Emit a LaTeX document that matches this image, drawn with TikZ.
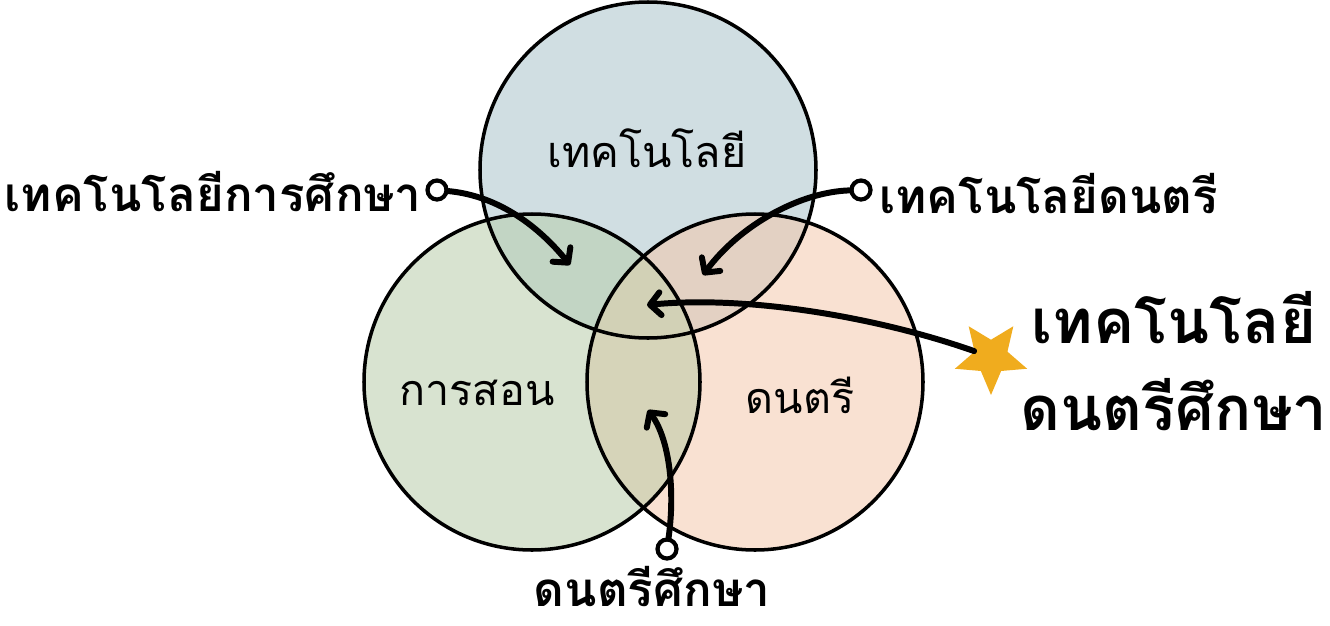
\documentclass[tikz,border=0pt]{standalone}
\usepackage{fontspec}
\newfontfamily\thaifont[Script=Thai]{Loma}
\usetikzlibrary{positioning, arrows.meta, shapes.geometric}
\definecolor{techfill}{RGB}{208,222,226}
\definecolor{teachfill}{RGB}{216,227,208}
\definecolor{musicfill}{RGB}{249,225,210}
\definecolor{techteach}{RGB}{194,213,196}
\definecolor{techmusic}{RGB}{227,209,195}
\definecolor{teachmusic}{RGB}{214,212,185}
\definecolor{allthree}{RGB}{210,209,182}
\definecolor{stargold}{RGB}{240,172,30}

\begin{document}
\begin{tikzpicture}[x=0.02cm, y=-0.02cm,
    ring/.style={draw=black, line width=2pt},
    innerlabel/.style={font=\thaifont\fontsize{24.5}{28}\selectfont, inner sep=0pt},
    sidelabel/.style={font=\thaifont\bfseries\fontsize{27}{32}\selectfont, inner sep=0pt},
    biglabel/.style={font=\thaifont\bfseries\fontsize{35}{40}\selectfont, inner sep=0pt},
    dot/.style={circle, draw=black, line width=2.4pt, fill=white, minimum size=0.38cm, inner sep=0pt},
    arrowline/.style={line width=3.4pt, line cap=round, -{Straight Barb[length=6pt, width=13pt, round]}}]
    \useasboundingbox (0,0) rectangle (1330,626);
    % circle fills and their overlaps
    \fill[techfill] (648,170) circle (168);
    \fill[teachfill] (532,382) circle (168);
    \fill[musicfill] (755,382) circle (168);
    \begin{scope}
        \clip (648,170) circle (168);
        \fill[techteach] (532,382) circle (168);
        \fill[techmusic] (755,382) circle (168);
    \end{scope}
    \begin{scope}
        \clip (532,382) circle (168);
        \fill[teachmusic] (755,382) circle (168);
        \clip (648,170) circle (168);
        \fill[allthree] (755,382) circle (168);
    \end{scope}
    \draw[ring] (648,170) circle (168);
    \draw[ring] (532,382) circle (168);
    \draw[ring] (755,382) circle (168);

    \node[innerlabel, anchor=base] (techlabel) at (647,167) {เทคโนโลยี};
    \node[innerlabel, anchor=base] (teachlabel) at (477,405) {การสอน};
    \node[innerlabel, anchor=base] (musiclabel) at (800,413) {ดนตรี};

    \node[sidelabel, anchor=base east] (edtechlabel) at (422,211) {เทคโนโลยีการศึกษา};
    \node[sidelabel, anchor=base west] (mustechlabel) at (879,213) {เทคโนโลยีดนตรี};
    \node[sidelabel, anchor=base] (musedlabel) at (652,606) {ดนตรีศึกษา};
    \node[biglabel, anchor=base] (bigtop) at (1174,343) {เทคโนโลยี};
    \node[biglabel, anchor=base] (bigbottom) at (1174,430) {ดนตรีศึกษา};

    \node[dot] (dot1) at (437,190) {};
    \node[dot] (dot2) at (861,190) {};
    \node[dot] (dot3) at (667,549) {};
    \node[star, star points=5, star point ratio=2.2, fill=stargold, minimum size=1.52cm, inner sep=0pt, shape border rotate=180] (star) at (991,357) {};

    \coordinate (tip1) at (570,265);
    \coordinate (tip2) at (703,275);
    \coordinate (tip3) at (648,410);
    \coordinate (tip4) at (647,305);

    \draw[arrowline] (dot1) .. controls (500,196) and (540,228) .. (tip1);
    \draw[arrowline] (dot2) .. controls (800,192) and (740,225) .. (tip2);
    \draw[arrowline] (dot3) .. controls (675,492) and (670,440) .. (tip3);
    \draw[arrowline] (star) .. controls (880,318) and (750,295) .. (tip4);
\end{tikzpicture}
\end{document}
